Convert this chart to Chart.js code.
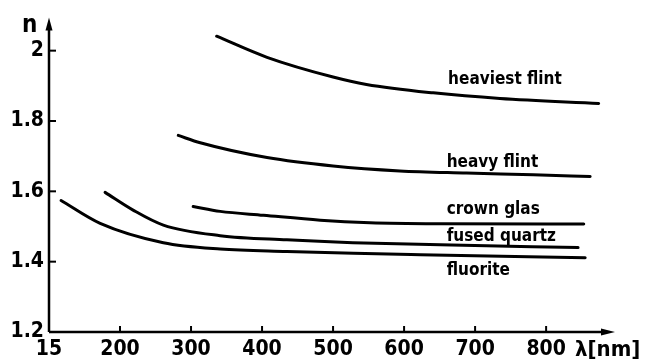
<!DOCTYPE html>
<html>
<head>
<meta charset="utf-8">
<script src="https://cdn.jsdelivr.net/npm/chart.js@4.4.1/dist/chart.umd.min.js"></script>
<style>
  html, body { margin: 0; padding: 0; background: #fff; }
  canvas { display: block; }
</style>
</head>
<body>
<canvas id="dispersionChart" width="646" height="359"></canvas>
<script>
// --- Données (longueur d'onde en nm, indice n) ---
const xTicks = [100, 200, 300, 400, 500, 600, 700, 800];
const xTickLabels = ['15', '200', '300', '400', '500', '600', '700', '800'];
const yTicks = [1.2, 1.4, 1.6, 1.8, 2.0];
const yTickLabels = ['1.2', '1.4', '1.6', '1.8', '2'];

const heaviestFlintNm = [336, 407, 500, 547, 641, 735, 874];
const heaviestFlintN  = [2.041, 1.981, 1.925, 1.904, 1.880, 1.864, 1.850];

const heavyFlintNm = [282, 313, 407, 500, 594, 688, 782, 862];
const heavyFlintN  = [1.759, 1.738, 1.696, 1.672, 1.658, 1.652, 1.647, 1.642];

const crownGlasNm = [303, 341, 402, 482, 552, 651, 853];
const crownGlasN  = [1.557, 1.543, 1.532, 1.518, 1.511, 1.508, 1.507];

const fusedQuartzNm = [179, 219, 261, 341, 435, 528, 651, 845];
const fusedQuartzN  = [1.597, 1.546, 1.504, 1.474, 1.462, 1.454, 1.448, 1.440];

const fluoriteNm = [117, 172, 261, 341, 435, 529, 623, 855];
const fluoriteN  = [1.574, 1.509, 1.454, 1.436, 1.429, 1.424, 1.420, 1.411];

const curveLabels = [
    { text: 'heaviest flint', nm: 662, n: 1.906 },
    { text: 'heavy flint',    nm: 660, n: 1.668 },
    { text: 'crown glas',     nm: 660, n: 1.535 },
    { text: 'fused quartz',   nm: 660, n: 1.459 },
    { text: 'fluorite',       nm: 660, n: 1.361 }
];

const FONT = "'Liberation Sans Narrow', 'DejaVu Sans Condensed', 'Liberation Sans', sans-serif";

function toPoints(xs, ys) {
    return xs.map((x, i) => ({ x: x, y: ys[i] }));
}

function curve(xs, ys) {
    return {
        data: toPoints(xs, ys),
        borderColor: '#000',
        borderWidth: 3,
        borderCapStyle: 'round',
        pointRadius: 0,
        cubicInterpolationMode: 'monotone',
        fill: false
    };
}

// --- Axes avec flèches, graduations et étiquettes des courbes ---
const axesPlugin = {
    id: 'axesPlugin',
    afterDraw(chart) {
        const ctx = chart.ctx;
        const area = chart.chartArea;
        const xs = chart.scales.x;
        const ys = chart.scales.y;
        const left = area.left, bottom = area.bottom;

        ctx.save();
        ctx.strokeStyle = '#000';
        ctx.fillStyle = '#000';
        ctx.lineWidth = 2.5;

        // axe vertical
        ctx.beginPath();
        ctx.moveTo(left, bottom);
        ctx.lineTo(left, area.top + 8);
        ctx.stroke();
        ctx.beginPath();
        ctx.moveTo(left, area.top);
        ctx.lineTo(left - 3.5, area.top + 13);
        ctx.lineTo(left + 3.5, area.top + 13);
        ctx.closePath();
        ctx.fill();

        // axe horizontal
        ctx.beginPath();
        ctx.moveTo(left, bottom);
        ctx.lineTo(area.right - 8, bottom);
        ctx.stroke();
        ctx.beginPath();
        ctx.moveTo(area.right, bottom);
        ctx.lineTo(area.right - 14, bottom - 3.5);
        ctx.lineTo(area.right - 14, bottom + 3.5);
        ctx.closePath();
        ctx.fill();

        // graduations
        ctx.lineWidth = 2;
        yTicks.slice(1).forEach(v => {
            const py = ys.getPixelForValue(v);
            ctx.beginPath();
            ctx.moveTo(left, py);
            ctx.lineTo(left + 7, py);
            ctx.stroke();
        });
        xTicks.slice(1).forEach(v => {
            const px = xs.getPixelForValue(v);
            ctx.beginPath();
            ctx.moveTo(px, bottom);
            ctx.lineTo(px, bottom - 6);
            ctx.stroke();
        });

        // titres des axes
        ctx.textBaseline = 'alphabetic';
        ctx.textAlign = 'left';
        ctx.font = 'bold 24px ' + FONT;
        ctx.fillText('n', left - 27, area.top + 14);
        ctx.font = 'bold 22px ' + FONT;
        ctx.fillText('λ[nm]', 575, 356);

        // noms des verres
        ctx.font = 'bold 17px ' + FONT;
        curveLabels.forEach(l => {
            ctx.fillText(l.text, xs.getPixelForValue(l.nm), ys.getPixelForValue(l.n));
        });
        ctx.restore();
    }
};

let dispersionChart;

document.addEventListener("DOMContentLoaded", () => {
    const ctx = document.getElementById("dispersionChart").getContext("2d");
    dispersionChart = new Chart(ctx, {
        type: 'line',
        data: {
            datasets: [
                curve(heaviestFlintNm, heaviestFlintN),
                curve(heavyFlintNm, heavyFlintN),
                curve(crownGlasNm, crownGlasN),
                curve(fusedQuartzNm, fusedQuartzN),
                curve(fluoriteNm, fluoriteN)
            ]
        },
        options: {
            responsive: false,
            animation: false,
            devicePixelRatio: 1,
            layout: { padding: { left: 0, top: 13, right: 31, bottom: 0 } },
            plugins: { legend: { display: false }, tooltip: { enabled: false } },
            scales: {
                x: {
                    type: 'linear',
                    min: 100,
                    max: 897,
                    grid: { display: false, drawTicks: false },
                    border: { display: false },
                    afterBuildTicks: s => { s.ticks = xTicks.map(v => ({ value: v })); },
                    afterFit: s => { s.height = 27; },
                    ticks: {
                        padding: 5,
                        maxRotation: 0,
                        color: '#000',
                        font: { family: FONT, size: 21, weight: 'bold' },
                        callback: v => xTickLabels[xTicks.indexOf(v)]
                    }
                },
                y: {
                    type: 'linear',
                    min: 1.2,
                    max: 2.094,
                    grid: { display: false, drawTicks: false },
                    border: { display: false },
                    afterBuildTicks: s => { s.ticks = yTicks.map(v => ({ value: v })); },
                    afterFit: s => { s.width = 49; },
                    ticks: {
                        padding: 5,
                        color: '#000',
                        font: { family: FONT, size: 21, weight: 'bold' },
                        callback: v => yTickLabels[yTicks.findIndex(t => Math.abs(t - v) < 1e-6)]
                    }
                }
            }
        },
        plugins: [axesPlugin]
    });
});
</script>
</body>
</html>
